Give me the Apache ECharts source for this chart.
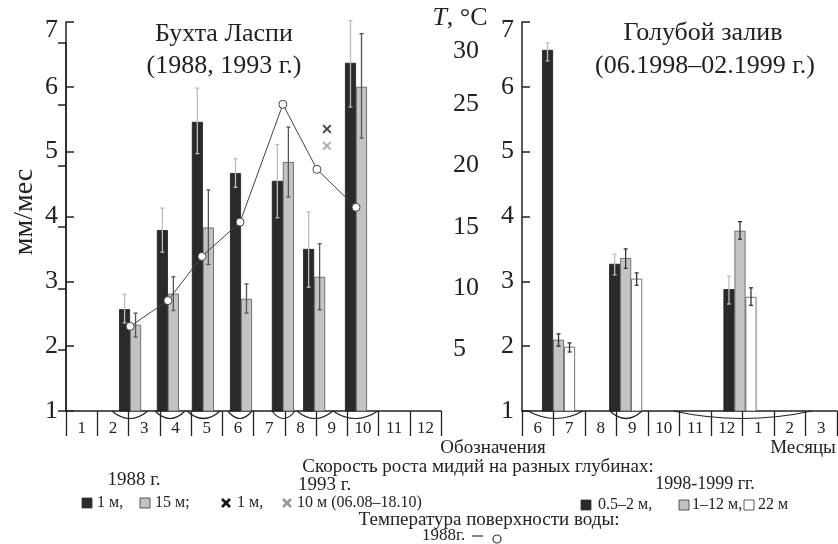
<!DOCTYPE html>
<html><head><meta charset="utf-8">
<script src="https://cdn.jsdelivr.net/npm/echarts@6/dist/echarts.min.js"></script>
<style>html,body{margin:0;padding:0;background:#fff}#c{width:838px;height:544px}</style>
</head><body><div id="c"></div>
<script>
// ---------- Left panel: Бухта Ласпи (1988, 1993) ----------
const monthsLeft = ['1','2','3','4','5','6','7','8','9','10','11','12'];
const laspiX      = [2.05, 3.26, 4.38, 5.60, 6.94, 7.94, 9.28];   // month position (0..12)
const laspi1m     = [2.57, 3.79, 5.46, 4.67, 4.55, 3.50, 6.37];
const laspi1mLo   = [2.36, 3.45, 4.97, 4.45, 3.98, 2.91, 5.69];
const laspi1mHi   = [2.80, 4.13, 5.98, 4.89, 5.11, 4.07, 7.02];
const laspi15m    = [2.33, 2.81, 3.83, 2.73, 4.84, 3.07, 6.00];
const laspi15mLo  = [2.14, 2.55, 3.26, 2.51, 4.30, 2.56, 5.21];
const laspi15mHi  = [2.51, 3.07, 4.41, 2.96, 5.38, 3.58, 6.82];
const cross1993X    = [8.35];
const cross1993_1m  = [5.35];
const cross1993_10m = [5.09];
const tempX    = [2.05, 3.26, 4.35, 5.57, 6.94, 8.03, 9.28];
const temp1988 = [6.9, 9.0, 12.6, 15.4, 25.0, 19.7, 16.6];
const periodsLeftStart = [1.47, 2.85, 3.87, 5.18, 6.59, 7.39, 8.54];
const periodsLeftEnd   = [2.62, 3.81, 4.93, 5.95, 7.33, 8.54, 9.98];
// ---------- Right panel: Голубой залив (06.1998–02.1999) ----------
const monthsRight = ['6','7','8','9','10','11','12','1','2','3'];
const golubX     = [1.16, 3.29, 6.92];
const golub05    = [6.57, 3.27, 2.88];
const golub05Lo  = [6.40, 3.10, 2.65];
const golub05Hi  = [6.68, 3.42, 3.08];
const golub112   = [2.10, 3.36, 3.78];
const golub112Lo = [2.00, 3.20, 3.65];
const golub112Hi = [2.19, 3.50, 3.92];
const golub22    = [1.99, 3.04, 2.76];
const golub22Lo  = [1.91, 2.94, 2.63];
const golub22Hi  = [2.05, 3.13, 2.90];
const periodsRightStart = [0.19, 2.79, 4.80];
const periodsRightEnd   = [1.94, 3.81, 9.20];

const SERIF = '"Liberation Serif","DejaVu Serif",serif';
const INK = '#222';
const DARK = '#2a2a2a', GRAY = '#c2c3c5', WHITE = '#ffffff';

const pairs = (xs, ys) => xs.map((x, i) => [x, ys[i]]);
const triples = (xs, lo, hi) => xs.map((x, i) => [x, lo[i], hi[i]]);

function errRender(offset, color) {
  return function (params, api) {
    const x = api.value(0);
    const p1 = api.coord([x, api.value(1)]);
    const p2 = api.coord([x, api.value(2)]);
    const cx = p1[0] + offset;
    const st = { stroke: color, lineWidth: 1.3 };
    return { type: 'group', children: [
      { type: 'line', shape: { x1: cx, y1: p1[1], x2: cx, y2: p2[1] }, style: st },
      { type: 'line', shape: { x1: cx - 2, y1: p1[1], x2: cx + 2, y2: p1[1] }, style: st },
      { type: 'line', shape: { x1: cx - 2, y1: p2[1], x2: cx + 2, y2: p2[1] }, style: st }
    ]};
  };
}
function braceRender(params, api) {
  const a = api.coord([api.value(0), 1]);
  const b = api.coord([api.value(1), 1]);
  return { type: 'bezierCurve',
    shape: { x1: a[0], y1: a[1], x2: b[0], y2: b[1], cpx1: (a[0] + b[0]) / 2, cpy1: a[1] + 15 },
    style: { stroke: INK, fill: null, lineWidth: 1.2 } };
}
function errSeries(xi, yi, data, offset, color) {
  return { type: 'custom', xAxisIndex: xi, yAxisIndex: yi, data: data, encode: { x: 0, y: [1, 2] },
    renderItem: errRender(offset, color), z: 5, silent: true, clip: false };
}
function barSeries(xi, yi, data, color, border) {
  return { type: 'bar', xAxisIndex: xi, yAxisIndex: yi, data: data, barWidth: 11, barGap: '0%',
    clip: true, itemStyle: { color: color, borderColor: border, borderWidth: 0.8 }, z: 2, silent: true };
}
const crossPath = 'path://M0,1.5L1.5,0L5,3.5L8.5,0L10,1.5L6.5,5L10,8.5L8.5,10L5,6.5L1.5,10L0,8.5L3.5,5Z';

const yTickLabel = {
  fontFamily: SERIF, fontSize: 26, color: INK, margin: 8,
  formatter: v => (v === 7 ? '{top|7}' : String(v)),
  rich: { top: { fontFamily: SERIF, fontSize: 26, color: INK, padding: [16, 0, 0, 0] } }
};
function mainY(gi) {
  return { gridIndex: gi, type: 'value', min: 1, max: 7, interval: 1,
    axisLine: { show: true, lineStyle: { color: INK, width: 1.5 } },
    axisTick: { show: true, inside: true, length: 8, lineStyle: { color: INK, width: 1.5 } },
    axisLabel: yTickLabel, splitLine: { show: false } };
}
function monthAxis(gi, data) {
  return { gridIndex: gi, type: 'category', position: 'bottom', data: data, boundaryGap: true,
    axisLine: { show: true, lineStyle: { color: INK, width: 1.5 } },
    axisTick: { show: true, interval: 0, length: 25, lineStyle: { color: INK, width: 1.3 } },
    axisLabel: { interval: 0, margin: 9, fontFamily: SERIF, fontSize: 17, color: INK },
    splitLine: { show: false } };
}

const txt = (x, y, text, size, align, extra) => Object.assign({
  type: 'text', x: x, y: y, silent: true,
  style: { text: text, fontFamily: SERIF, fontSize: size, fill: INK, align: align || 'center', verticalAlign: 'middle' }
}, extra || {});
const box = (x, y, fill) => ({ type: 'rect', silent: true, shape: { x: x, y: y, width: 10, height: 10 },
  style: { fill: fill, stroke: '#333', lineWidth: 0.8 } });
const cross = (x, y, color) => ({ type: 'group', silent: true, children: [
  { type: 'line', shape: { x1: x, y1: y, x2: x + 8, y2: y + 8 }, style: { stroke: color, lineWidth: 2.6 } },
  { type: 'line', shape: { x1: x + 8, y1: y, x2: x, y2: y + 8 }, style: { stroke: color, lineWidth: 2.6 } }
]});

const option = {
  animation: false,
  backgroundColor: '#fff',
  grid: [
    { left: 66, width: 375, top: 22, height: 389 },
    { left: 522, width: 315, top: 22, height: 389 },
    { left: 66, width: 375, top: 43, height: 368 }
  ],
  xAxis: [
    { gridIndex: 0, type: 'value', min: 0, max: 12, show: false },
    monthAxis(0, monthsLeft),
    { gridIndex: 1, type: 'value', min: 0, max: 10, show: false },
    monthAxis(1, monthsRight),
    { gridIndex: 2, type: 'value', min: 0, max: 12, show: false }
  ],
  yAxis: [
    mainY(0),
    mainY(1),
    { gridIndex: 2, type: 'value', min: 0, max: 30, interval: 5, position: 'right', offset: 2,
      axisLine: { show: true, lineStyle: { color: INK, width: 1.5 } },
      axisTick: { show: true, inside: true, length: 8, lineStyle: { color: INK, width: 1.5 } },
      axisLabel: { fontFamily: SERIF, fontSize: 26, color: INK, margin: 10, align: 'left',
        formatter: v => (v === 0 ? '' : (v === 30 ? '{top|30}' : String(v))),
        rich: { top: { fontFamily: SERIF, fontSize: 26, color: INK, padding: [16, 0, 0, 0] } } },
      splitLine: { show: false } }
  ],
  series: [
    barSeries(0, 0, pairs(laspiX, laspi1m), DARK, '#1a1a1a'),
    barSeries(0, 0, pairs(laspiX, laspi15m), GRAY, '#555'),
    errSeries(0, 0, triples(laspiX, laspi1mLo, laspi1mHi), -5.5, '#bdbdbd'),
    errSeries(0, 0, triples(laspiX, laspi15mLo, laspi15mHi), 5.5, '#555'),
    { type: 'scatter', xAxisIndex: 0, yAxisIndex: 0, data: pairs(cross1993X, cross1993_1m),
      symbol: crossPath, symbolSize: 9, itemStyle: { color: '#111' }, z: 6, silent: true },
    { type: 'scatter', xAxisIndex: 0, yAxisIndex: 0, data: pairs(cross1993X, cross1993_10m),
      symbol: crossPath, symbolSize: 9, itemStyle: { color: '#9a9a9a' }, z: 6, silent: true },
    { type: 'custom', xAxisIndex: 0, yAxisIndex: 0, data: pairs(periodsLeftStart, periodsLeftEnd),
      encode: { x: [0, 1] }, renderItem: braceRender, clip: false, silent: true, z: 4 },
    { type: 'line', xAxisIndex: 4, yAxisIndex: 2, data: pairs(tempX, temp1988),
      symbol: 'circle', symbolSize: 8, showSymbol: true,
      lineStyle: { color: '#444', width: 1 },
      itemStyle: { color: '#fff', borderColor: '#444', borderWidth: 1 }, z: 7, silent: true },
    barSeries(2, 1, pairs(golubX, golub05), DARK, '#1a1a1a'),
    barSeries(2, 1, pairs(golubX, golub112), GRAY, '#555'),
    barSeries(2, 1, pairs(golubX, golub22), WHITE, '#555'),
    errSeries(2, 1, triples(golubX, golub05Lo, golub05Hi), -11, '#bdbdbd'),
    errSeries(2, 1, triples(golubX, golub112Lo, golub112Hi), 0, '#333'),
    errSeries(2, 1, triples(golubX, golub22Lo, golub22Hi), 11, '#333'),
    { type: 'custom', xAxisIndex: 2, yAxisIndex: 1, data: pairs(periodsRightStart, periodsRightEnd),
      encode: { x: [0, 1] }, renderItem: braceRender, clip: false, silent: true, z: 4 }
  ],
  graphic: [
    txt(224, 34, 'Бухта Ласпи', 26),
    txt(224, 66, '(1988, 1993 г.)', 26),
    txt(703, 33, 'Голубой залив', 26),
    txt(705, 66, '(06.1998–02.1999 г.)', 26),
    { type: 'text', x: 460, y: 18, silent: true,
      style: { text: '{i|T}, °C', fontFamily: SERIF, fontSize: 26, fill: INK, align: 'center', verticalAlign: 'middle',
        rich: { i: { fontFamily: SERIF, fontSize: 26, fontStyle: 'italic', fill: INK } } } },
    txt(25, 212, 'мм/мес', 28, 'center', { rotation: Math.PI / 2 }),
    txt(493, 448, 'Обозначения', 19),
    txt(803, 448, 'Месяцы', 19),
    txt(478, 467, 'Скорость роста мидий на разных глубинах:', 19),
    txt(134, 480, '1988 г.', 19),
    txt(298, 485, '1993 г.', 19, 'left'),
    txt(705, 484, '1998-1999 гг.', 18),
    box(82, 498, DARK), txt(97, 503, '1 м,', 16, 'left'),
    box(140, 498, GRAY), txt(155, 503, '15 м;', 16, 'left'),
    cross(222, 499, '#111'), txt(237, 503, '1 м,', 16, 'left'),
    cross(283, 499, '#9a9a9a'), txt(297, 503, '10 м (06.08–18.10)', 16, 'left'),
    box(581, 500, DARK), txt(598, 505, '0.5–2 м,', 16, 'left'),
    box(679, 500, GRAY), txt(692, 505, '1–12 м,', 16, 'left'),
    box(744, 500, WHITE), txt(758, 505, '22 м', 16, 'left'),
    txt(489, 520, 'Температура поверхности воды:', 19),
    txt(422, 536, '1988г.', 17, 'left'),
    { type: 'line', silent: true, shape: { x1: 472, y1: 536, x2: 483, y2: 536 }, style: { stroke: '#333', lineWidth: 1.2 } },
    { type: 'circle', silent: true, shape: { cx: 497, cy: 539, r: 4 }, style: { fill: '#fff', stroke: '#333', lineWidth: 1.2 } }
  ]
};
const chart = echarts.init(document.getElementById('c'), null, { renderer: 'canvas' });
chart.setOption(option);
</script>
</body></html>
